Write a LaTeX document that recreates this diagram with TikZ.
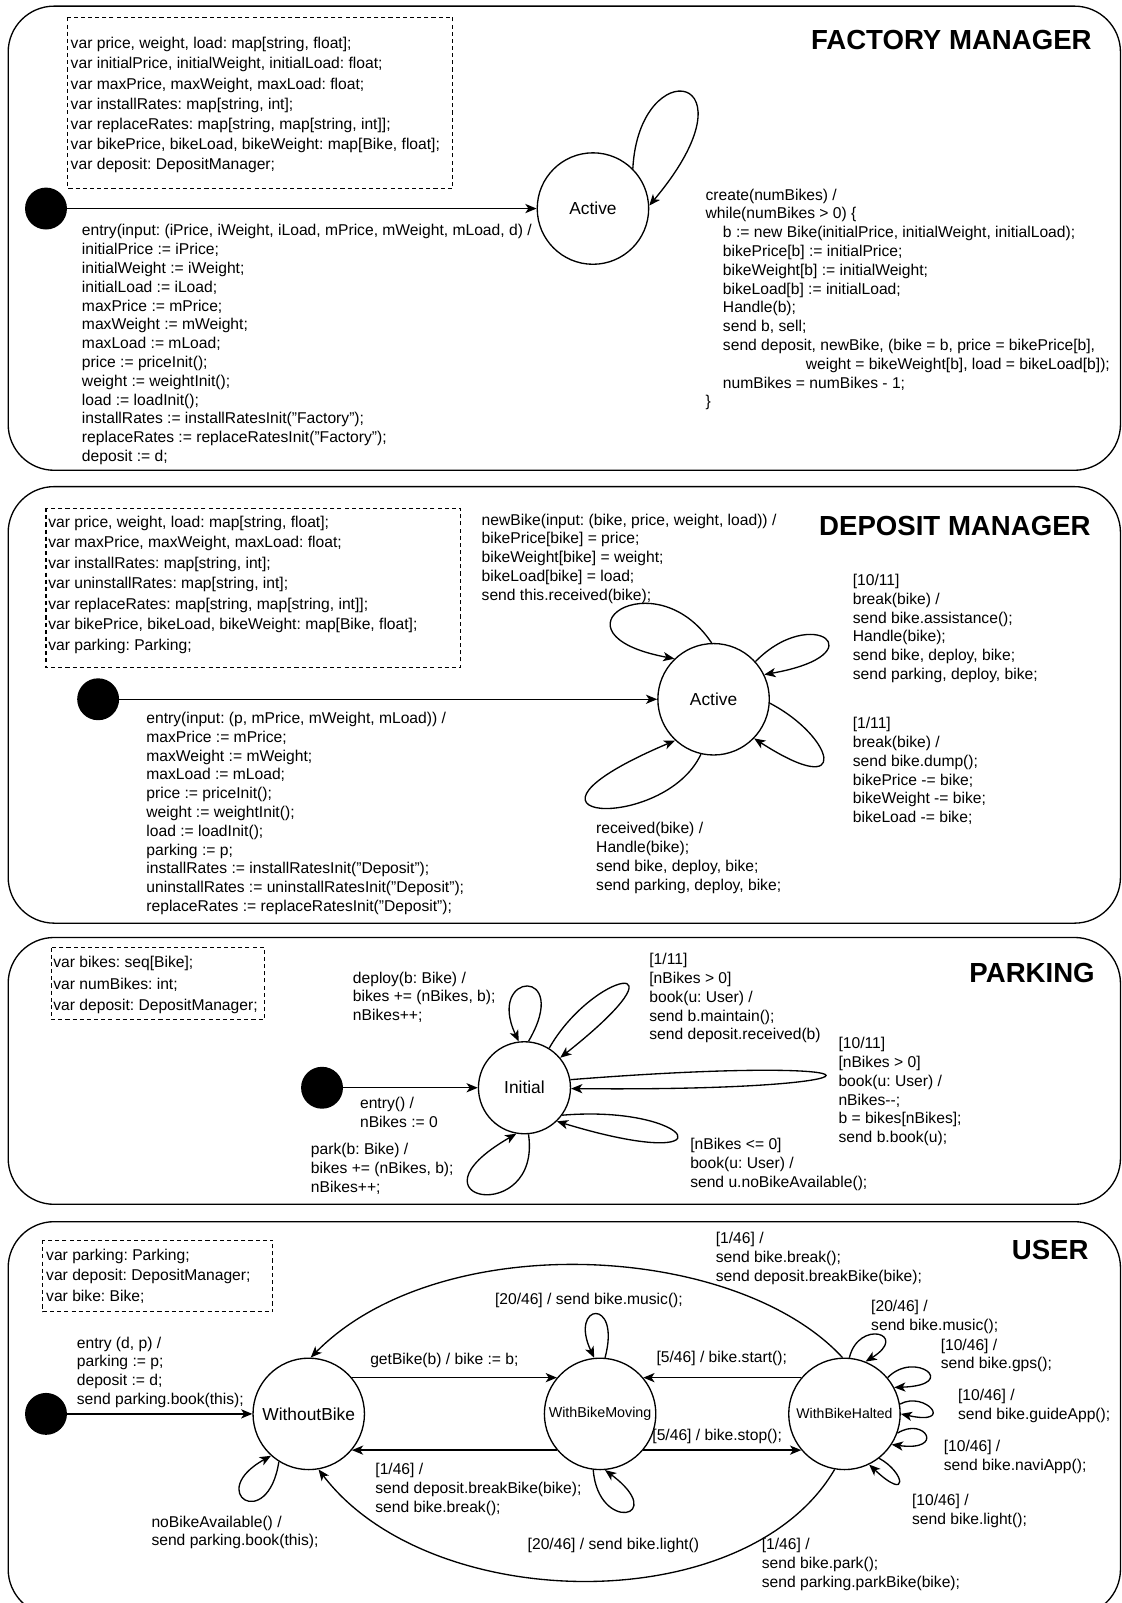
\documentclass[tikz,border=0pt]{standalone}
\usepackage{fontspec}
\setmainfont{Liberation Sans}
\usetikzlibrary{arrows.meta}
\frenchspacing
\newcommand\fs{\fontsize{15.3}{18.4}\selectfont}
\newcommand\fsv[1]{\fontsize{15.3}{#1}\selectfont}
\tikzset{
  frame/.style={draw, line width=1.3pt, rounded corners=45pt},
  dbox/.style={draw, line width=1pt, dash pattern=on 4pt off 3pt},
  state/.style={circle, draw, line width=1.3pt, minimum size=109pt, inner sep=0pt, font=\fontsize{17}{20}\selectfont},
  init/.style={circle, fill=black, minimum size=41pt, inner sep=0pt},
  arr/.style={line width=1.3pt, -{Stealth[length=11pt,width=9pt,inset=3pt]}},
  tb/.style={font=\fs, align=left, inner sep=0pt, anchor=north west},
  ttl/.style={font=\fontsize{27}{32}\selectfont\bfseries, anchor=base east, inner sep=0pt}
}
\begin{document}
\begin{tikzpicture}[x=1pt,y=-1pt]
\useasboundingbox (0,0) rectangle (1097,1568);
% ================= FACTORY MANAGER =================
\draw[frame] (8,6) rectangle (1096,460);
\draw[dbox] (66,17) rectangle (443,184);
\node[tb, font=\fsv{19.7}] (fV) at (69,33.7) {\strut var price, weight, load: map[string, float];\\
var initialPrice, initialWeight, initialLoad: float;\\
var maxPrice, maxWeight, maxLoad: float;\\
var installRates: map[string, int];\\
var replaceRates: map[string, map[string, int]];\\
var bikePrice, bikeLoad, bikeWeight: map[Bike, float];\\
var deposit: DepositManager;};
\node[ttl] (fT) at (1068,48.7) {FACTORY MANAGER};
\node[init] (fI) at (45,204) {};
\node[state] (fA) at (580,204) {Active};
\draw[arr] (fI) -- (fA);
\draw[arr] (fA.45) .. controls (625,50) and (745,70) .. (fA.3);
\node[tb] (fE) at (80,217.6) {\strut entry(input: (iPrice, iWeight, iLoad, mPrice, mWeight, mLoad, d) /\\
initialPrice := iPrice;\\
initialWeight := iWeight;\\
initialLoad := iLoad;\\
maxPrice := mPrice;\\
maxWeight := mWeight;\\
maxLoad := mLoad;\\
price := priceInit();\\
weight := weightInit();\\
load := loadInit();\\
installRates := installRatesInit("Factory");\\
replaceRates := replaceRatesInit("Factory");\\
deposit := d;};
\node[tb] (fR) at (690,182.6) {\strut create(numBikes) /\\
while(numBikes > 0) \{\\
\hspace*{17pt}b := new Bike(initialPrice, initialWeight, initialLoad);\\
\hspace*{17pt}bikePrice[b] := initialPrice;\\
\hspace*{17pt}bikeWeight[b] := initialWeight;\\
\hspace*{17pt}bikeLoad[b] := initialLoad;\\
\hspace*{17pt}Handle(b);\\
\hspace*{17pt}send b, sell;\\
\hspace*{17pt}send deposit, newBike, (bike = b, price = bikePrice[b],\\
\hspace*{98pt}weight = bikeWeight[b], load = bikeLoad[b]);\\
\hspace*{17pt}numBikes = numBikes - 1;\\
\}};
% ================= DEPOSIT MANAGER =================
\draw[frame] (8,476) rectangle (1096,903);
\draw[dbox] (45,497) rectangle (450,653);
\node[tb, font=\fsv{20.1}] (dV) at (47,501.4) {\strut var price, weight, load: map[string, float];\\
var maxPrice, maxWeight, maxLoad: float;\\
var installRates: map[string, int];\\
var uninstallRates: map[string, int];\\
var replaceRates: map[string, map[string, int]];\\
var bikePrice, bikeLoad, bikeWeight: map[Bike, float];\\
var parking: Parking;};
\node[ttl] (dT) at (1067,523.7) {DEPOSIT MANAGER};
\node[init] (dI) at (96,684) {};
\node[state] (dA) at (698,684) {Active};
\draw[arr] (dI) -- (dA);
\draw[arr] (dA.92) .. controls (640,545) and (530,620) .. (dA.134);
\draw[arr] (dA.42) .. controls (795,590) and (860,640) .. (dA.26);
\draw[arr] (dA.-4) .. controls (815,720) and (835,785) .. (dA.-44);
\draw[arr] (dA.-103) .. controls (650,815) and (470,805) .. (dA.-133);
\node[tb] (dN) at (471,500.6) {\strut newBike(input: (bike, price, weight, load)) /\\
bikePrice[bike] = price;\\
bikeWeight[bike] = weight;\\
bikeLoad[bike] = load;\\
send this.received(bike);};
\node[tb] (dE) at (143,694.6) {\strut entry(input: (p, mPrice, mWeight, mLoad)) /\\
maxPrice := mPrice;\\
maxWeight := mWeight;\\
maxLoad := mLoad;\\
price := priceInit();\\
weight := weightInit();\\
load := loadInit();\\
parking := p;\\
installRates := installRatesInit("Deposit");\\
uninstallRates := uninstallRatesInit("Deposit");\\
replaceRates := replaceRatesInit("Deposit");};
\node[tb] (dR1) at (834,559.6) {\strut [10/11]\\
break(bike) /\\
send bike.assistance();\\
Handle(bike);\\
send bike, deploy, bike;\\
send parking, deploy, bike;};
\node[tb] (dR2) at (834,699.6) {\strut [1/11]\\
break(bike) /\\
send bike.dump();\\
bikePrice -= bike;\\
bikeWeight -= bike;\\
bikeLoad -= bike;};
\node[tb] (dB) at (583,802.6) {\strut received(bike) /\\
Handle(bike);\\
send bike, deploy, bike;\\
send parking, deploy, bike;};
% ================= PARKING =================
\draw[frame] (8,917) rectangle (1096,1178);
\draw[dbox] (50,927) rectangle (259,997);
\node[tb, font=\fsv{21}] (pV) at (52,931.8) {\strut var bikes: seq[Bike];\\
var numBikes: int;\\
var deposit: DepositManager;};
\node[ttl] (pT) at (1071,960.7) {PARKING};
\node[init] (pI0) at (315,1064) {};
\node[state, minimum size=90pt] (pI) at (513,1064) {Initial};
\draw[arr] (pI0) -- (pI);
\draw[arr] (pI.85) .. controls (560,945) and (475,950) .. (pI.97);
\draw[arr] (pI.58) .. controls (580,950) and (680,930) .. (pI.40);
\draw[arr] (pI.10) .. controls (890,1030) and (890,1068) .. (pI.-1);
\draw[arr] (pI.-36) .. controls (680,1080) and (720,1150) .. (pI.-46);
\draw[arr] (pI.-85) .. controls (530,1200) and (390,1175) .. (pI.-100);
\node[tb] (pEn) at (352,1071.6) {\strut entry() /\\
nBikes := 0};
\node[tb] (pDe) at (345,948.6) {\strut deploy(b: Bike) /\\
bikes += (nBikes, b);\\
nBikes++;};
\node[tb] (pB1) at (635,930.6) {\strut [1/11]\\{}[nBikes > 0]\\
book(u: User) /\\
send b.maintain();\\
send deposit.received(b)};
\node[tb] (pB2) at (820,1012.6) {\strut [10/11]\\{}[nBikes > 0]\\
book(u: User) /\\
nBikes-{}-;\\
b = bikes[nBikes];\\
send b.book(u);};
\node[tb] (pB3) at (675,1111.6) {\strut [nBikes <= 0]\\
book(u: User) /\\
send u.noBikeAvailable();};
\node[tb] (pPa) at (304,1116.6) {\strut park(b: Bike) /\\
bikes += (nBikes, b);\\
nBikes++;};
% ================= USER =================
\draw[frame] (8,1195) rectangle (1096,1580);
\draw[dbox] (42,1213) rectangle (267,1283);
\node[tb, font=\fsv{20}] (uV) at (45,1218.5) {\strut var parking: Parking;\\
var deposit: DepositManager;\\
var bike: Bike;};
\node[ttl] (uT) at (1065,1231.7) {USER};
\node[init] (uI) at (45,1383) {};
\node[state] (wo) at (302,1383) {WithoutBike};
\node[state, font=\fontsize{14}{17}\selectfont] (wm) at (587,1383) {WithBikeMoving};
\node[state, font=\fontsize{13.75}{17}\selectfont] (wh) at (826,1383) {WithBikeHalted};
\draw[arr] (uI) -- (wo);
\draw[arr] (wo.40) -- (wm.140);
\draw[arr] (wh.140) -- (wm.40);
\draw[arr] (wm.-40) -- (wh.-140);
\draw[arr] (wm.-140) -- (wo.-40);
\draw[arr] (wh.92) .. controls (720,1215) and (430,1200) .. (wo.88);
\draw[arr] (wh.-100) .. controls (730,1585) and (420,1580) .. (wo.-80);
\draw[arr] (wo.-122) .. controls (262,1500) and (200,1460) .. (wo.-132);
\draw[arr] (wm.85) .. controls (608,1268) and (556,1275) .. (wm.96);
\draw[arr] (wm.-97) .. controls (585,1500) and (655,1485) .. (wm.-85);
\draw[arr] (wh.85) .. controls (840,1290) and (890,1305) .. (wh.68);
\draw[arr] (wh.40) .. controls (895,1320) and (940,1355) .. (wh.28);
\draw[arr] (wh.10) .. controls (905,1360) and (935,1395) .. (wh.0);
\draw[arr] (wh.-20) .. controls (905,1385) and (925,1420) .. (wh.-33);
\draw[arr] (wh.-52) .. controls (885,1440) and (890,1470) .. (wh.-64);
\node[tb] (uEn) at (75,1305.6) {\strut entry (d, p) /\\
parking := p;\\
deposit := d;\\
send parking.book(this);};
\node[tb] (uGb) at (362,1321.6) {\strut getBike(b) / bike := b;};
\node[tb] (uSt) at (642,1319.6) {\strut [5/46] / bike.start();};
\node[tb] (uSp) at (638,1395.6) {\strut [5/46] / bike.stop();};
\node[tb] (uBr) at (367,1429.6) {\strut [1/46] /\\
send deposit.breakBike(bike);\\
send bike.break();};
\node[tb] (uTop) at (700,1203.6) {\strut [1/46] /\\
send bike.break();\\
send deposit.breakBike(bike);};
\node[tb] (uMu) at (484,1262.6) {\strut [20/46] / send bike.music();};
\node[tb] (uLi) at (516,1502.6) {\strut [20/46] / send bike.light()};
\node[tb] (uPk) at (745,1502.6) {\strut [1/46] /\\
send bike.park();\\
send parking.parkBike(bike);};
\node[tb] (uNb) at (148,1480.6) {\strut noBikeAvailable() /\\
send parking.book(this);};
\node[tb] (hMu) at (852,1269.6) {\strut [20/46] /\\
send bike.music();};
\node[tb] (hGp) at (920,1307.6) {\strut [10/46] /\\
send bike.gps();};
\node[tb] (hGu) at (937,1356.6) {\strut [10/46] /\\
send bike.guideApp();};
\node[tb] (hNa) at (923,1406.6) {\strut [10/46] /\\
send bike.naviApp();};
\node[tb] (hLi) at (892,1459.6) {\strut [10/46] /\\
send bike.light();};
\end{tikzpicture}
\end{document}
